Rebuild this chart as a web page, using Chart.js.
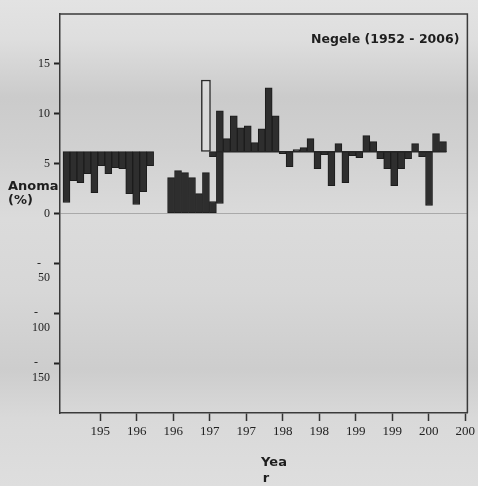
<!DOCTYPE html>
<html>
<head>
<meta charset="utf-8">
<script src="https://cdn.jsdelivr.net/npm/chart.js@4/dist/chart.umd.min.js"></script>
<style>
  html, body { margin: 0; padding: 0; background: #d9d9d9; }
  #wrap { width: 478px; height: 486px; }
</style>
</head>
<body>
<div id="wrap"><canvas id="chart" width="478" height="486"></canvas></div>
<script>
// Negele rainfall anomaly, bars are floating [low, high]
const years = [1952, 1953, 1954, 1955, 1956, 1957, 1958, 1959, 1960, 1961, 1962, 1963, 1964,
               1967, 1968, 1969, 1970, 1971, 1972, 1973, 1974,
               1975, 1976, 1977, 1978, 1979, 1980, 1981, 1982, 1983, 1984, 1985, 1986, 1987, 1988,
               1989, 1990, 1991, 1992, 1993, 1994, 1995, 1996, 1997, 1998, 1999, 2000, 2001, 2002,
               2003, 2004, 2005, 2006];
const lows  = [1.1, 3.3, 3.1, 4.0, 2.1, 4.8, 4.0, 4.6, 4.5, 2.0, 0.9, 2.2, 4.8,
               0, 0, 0, 0, 0, 0, 0, 1.0,
               6.2, 6.2, 6.2, 6.2, 6.2, 6.2, 6.2, 6.2, 6.0, 4.7, 6.2, 6.2, 6.2, 4.5,
               5.9, 2.8, 6.2, 3.1, 5.8, 5.6, 6.2, 6.2, 5.5, 4.5, 2.8, 4.5, 5.5, 6.2,
               5.7, 0.8, 6.2, 6.2];
const highs = [6.2, 6.2, 6.2, 6.2, 6.2, 6.2, 6.2, 6.2, 6.2, 6.2, 6.2, 6.2, 6.2,
               3.6, 4.3, 4.1, 3.6, 2.0, 4.1, 1.2, 10.3,
               7.5, 9.8, 8.6, 8.8, 7.1, 8.5, 12.6, 9.8, 6.2, 6.2, 6.4, 6.6, 7.5, 6.2,
               6.2, 6.2, 7.0, 6.2, 6.2, 6.2, 7.8, 7.2, 6.2, 6.2, 6.2, 6.2, 6.2, 7.0,
               6.2, 6.2, 8.0, 7.2];

const hollowYears = [1972];
const hollowLows = [6.2];
const hollowHighs = [13.4];

const extraYears = [1973];
const extraLows = [5.7];
const extraHighs = [6.2];

const baseline = 6.2;
const baselineYears = [1973.5, 2006.5];

const xTickYears = [1955, 1960, 1965, 1970, 1975, 1980, 1985, 1990, 1995, 2000, 2005];
const yTickValues = [-15, -10, -5, 0, 5, 10, 15];
const yTickLabels = [['', '-    ', '150'], ['', '-    ', '100'], ['', '-   ', '50'], '0', '5', '10', '15'];

const bgPlugin = {
    id: 'bg',
    beforeDraw(chart) {
        const c = chart.ctx;
        const g = c.createLinearGradient(0, 0, 0, chart.height);
        g.addColorStop(0, '#e3e3e3');
        g.addColorStop(0.08, '#dedede');
        g.addColorStop(0.2, '#cbcbcb');
        g.addColorStop(0.3, '#d0d0d0');
        g.addColorStop(0.45, '#dbdbdb');
        g.addColorStop(0.6, '#d7d7d7');
        g.addColorStop(0.76, '#cdcdcd');
        g.addColorStop(0.86, '#d9d9d9');
        g.addColorStop(1, '#dedede');
        c.save();
        c.fillStyle = g;
        c.fillRect(0, 0, chart.width, chart.height);
        c.restore();
    }
};

const textPlugin = {
    id: 'texts',
    afterDraw(chart) {
        const c = chart.ctx;
        const a = chart.chartArea;
        c.save();
        // frame top and right
        c.strokeStyle = '#3a3a3a';
        c.lineWidth = 1.5;
        c.beginPath();
        c.moveTo(a.left, a.top);
        c.lineTo(a.right, a.top);
        c.lineTo(a.right, a.bottom);
        c.stroke();

        c.fillStyle = '#1e1e1e';
        c.textBaseline = 'middle';
        c.font = 'bold 12.5px "DejaVu Sans"';
        c.textAlign = 'right';
        c.fillText('Negele (1952 - 2006)', a.right - 8, 40);

        c.font = 'bold 13px "DejaVu Sans"';
        c.textAlign = 'left';
        c.fillText('Anoma', 8, 187);
        c.fillText('(%)', 8, 201);

        c.textAlign = 'center';
        c.fillText('Yea', 274, 463);
        c.fillText('r', 266, 479);
        c.restore();
    }
};

const ctx = document.getElementById('chart').getContext('2d');
new Chart(ctx, {
    type: 'bar',
    data: {
        datasets: [{
            type: 'line',
            data: baselineYears.map(x => ({ x: x, y: baseline })),
            xAxisID: 'xb',
            borderColor: '#262626',
            borderWidth: 1.5,
            pointRadius: 0,
            order: 0
        }, {
            data: years.map((x, i) => ({ x: x, y: [lows[i], highs[i]] })),
            xAxisID: 'xb',
            backgroundColor: '#2e2e2e',
            borderColor: '#1c1c1c',
            borderWidth: 1,
            borderSkipped: false,
            grouped: false,
            barPercentage: 1,
            categoryPercentage: 1,
            order: 1
        }, {
            data: extraYears.map((x, i) => ({ x: x, y: [extraLows[i], extraHighs[i]] })),
            xAxisID: 'xb',
            backgroundColor: '#2e2e2e',
            borderColor: '#1c1c1c',
            borderWidth: 1,
            borderSkipped: false,
            grouped: false,
            barPercentage: 1,
            categoryPercentage: 1,
            order: 1
        }, {
            data: hollowYears.map((x, i) => ({ x: x, y: [hollowLows[i], hollowHighs[i]] })),
            xAxisID: 'xb',
            backgroundColor: 'rgba(240, 240, 240, 0.35)',
            borderColor: '#2a2a2a',
            borderWidth: 1.5,
            borderSkipped: false,
            grouped: false,
            barPercentage: 1.4,
            categoryPercentage: 1,
            order: 2
        }]
    },
    options: {
        responsive: false,
        animation: false,
        layout: { padding: { left: 2, top: 14, right: 10, bottom: 0 } },
        plugins: {
            legend: { display: false },
            tooltip: { enabled: false }
        },
        scales: {
            x: {
                type: 'linear',
                min: 1949.5,
                max: 2005.3,
                offset: false,
                afterBuildTicks: s => { s.ticks = xTickYears.map(v => ({ value: v })); },
                afterFit: s => { s.height = 73; },
                ticks: {
                    callback: v => String(v).slice(0, 3),
                    font: { family: '"Liberation Serif"', size: 13 },
                    color: '#222',
                    padding: 3,
                    maxRotation: 0,
                    autoSkip: false
                },
                grid: { drawOnChartArea: false, offset: false, tickLength: 8, tickWidth: 1.5, tickColor: '#333' },
                border: { color: '#3a3a3a', width: 1.5 }
            },
            xb: {
                type: 'linear',
                display: false,
                offset: false,
                min: 1951.07,
                max: 2009.5
            },
            y: {
                min: -20,
                max: 20,
                afterBuildTicks: s => { s.ticks = yTickValues.map(v => ({ value: v })); },
                afterFit: s => { s.width = 58; },
                ticks: {
                    callback: (v, i) => yTickLabels[i],
                    font: { family: '"Liberation Serif"', size: 12 },
                    color: '#222',
                    padding: 4,
                    autoSkip: false
                },
                grid: {
                    color: c => (c.tick && c.tick.value === 0) ? 'rgba(130,130,130,0.55)' : 'transparent',
                    tickColor: '#222',
                    tickLength: 6,
                    tickWidth: 2
                },
                border: { color: '#3a3a3a', width: 1.5 }
            }
        }
    },
    plugins: [bgPlugin, textPlugin]
});
</script>
</body>
</html>
